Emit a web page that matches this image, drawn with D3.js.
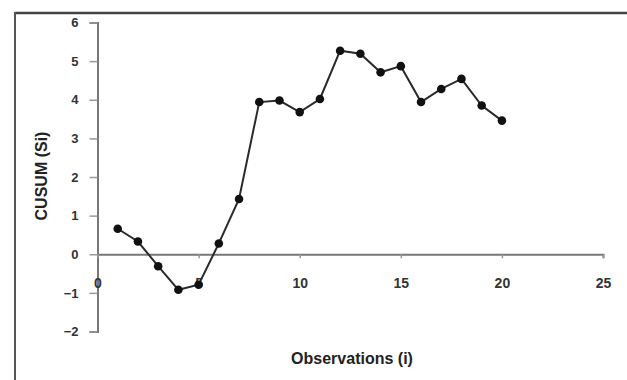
<!DOCTYPE html>
<html><head><meta charset="utf-8">
<script src="https://cdn.jsdelivr.net/npm/d3@7"></script>
<style>body{margin:0;background:#fff}svg{display:block}</style>
</head><body>
<script>
const observations = [1,2,3,4,5,6,7,8,9,10,11,12,13,14,15,16,17,18,19,20];
const cusum = [0.66,0.33,-0.31,-0.92,-0.79,0.28,1.43,3.94,3.98,3.68,4.02,5.27,5.19,4.71,4.87,3.94,4.28,4.54,3.85,3.46];
const xTicks = [0,5,10,15,20,25];
const yTicks = [-2,-1,0,1,2,3,4,5,6];
const xTitle = "Observations (i)";
const yTitle = "CUSUM (Si)";

const W = 627, H = 380;
const svg = d3.select("body").append("svg").attr("width", W).attr("height", H);
const x = d3.scaleLinear().domain([0,25]).range([97.5,603]);
const y = d3.scaleLinear().domain([-2,6]).range([331.5,22.5]);

// frame lines
svg.append("line").attr("x1",15).attr("x2",627).attr("y1",13).attr("y2",13).attr("stroke","#444").attr("stroke-width",2.5);
svg.append("line").attr("x1",15).attr("x2",15).attr("y1",12).attr("y2",380).attr("stroke","#555").attr("stroke-width",2);

const font = "'Liberation Sans', Arial, sans-serif";

// y axis
const yAxis = svg.append("g").attr("transform",`translate(${x(0)},0)`)
  .call(d3.axisLeft(y).tickValues(yTicks).tickSize(8).tickPadding(11).tickFormat(d3.format("d")));
yAxis.select(".domain").attr("stroke","#777").attr("stroke-width",2);
yAxis.selectAll(".tick line").attr("stroke","#999").attr("stroke-width",1.5);
yAxis.selectAll("text").attr("font-family",font).attr("font-size",13).attr("font-weight","bold").attr("fill","#333");

// x axis at y=0
const xAxis = svg.append("g").attr("transform",`translate(0,${y(0)})`)
  .call(d3.axisBottom(x).tickValues(xTicks).tickSize(4).tickPadding(20).tickFormat(d3.format("d")));
xAxis.select(".domain").attr("stroke","#777").attr("stroke-width",2);
xAxis.selectAll(".tick line").attr("stroke","#999").attr("stroke-width",1.5);
xAxis.selectAll("text").attr("font-family",font).attr("font-size",14).attr("font-weight","bold").attr("fill","#333");

// line
const line = d3.line().x((d,i)=>x(observations[i])).y(d=>y(d));
svg.append("path").datum(cusum).attr("d",line).attr("fill","none").attr("stroke","#2a2a2a").attr("stroke-width",2);
svg.selectAll("circle.pt").data(cusum).enter().append("circle").attr("class","pt")
  .attr("cx",(d,i)=>x(observations[i])).attr("cy",d=>y(d)).attr("r",4.3).attr("fill","#111");

// titles
svg.append("text").attr("x",352).attr("y",364).attr("text-anchor","middle")
  .attr("font-family",font).attr("font-size",16).attr("font-weight","bold").attr("fill","#222").text(xTitle);
svg.append("text").attr("transform","translate(47,176) rotate(-90)").attr("text-anchor","middle")
  .attr("font-family",font).attr("font-size",16).attr("font-weight","bold").attr("fill","#222").text(yTitle);
</script>
</body></html>
